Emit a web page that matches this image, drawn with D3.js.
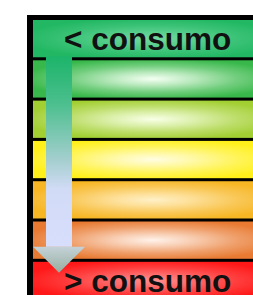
<!DOCTYPE html>
<html>
<head>
<meta charset="utf-8">
<script src="https://cdn.jsdelivr.net/npm/d3@7"></script>
<style>
  html, body { margin: 0; padding: 0; background: #fff; overflow: hidden; }
  .band-label { font-family: "Liberation Sans", Arial, sans-serif; font-weight: bold; fill: #111; }
</style>
</head>
<body>
<svg id="chart"></svg>
<script>
// Consumption levels, top (low) to bottom (high)
const levels = ["L1", "L2", "L3", "L4", "L5", "L6", "L7"];
const labels = ["< consumo", "", "", "", "", "", "> consumo"];
const edgeColors = ["#22b863", "#38b84a", "#a2cf32", "#fff01c", "#f7b623", "#e87a32", "#ff1818"];
const glowColors = ["#72daa2", "#f4fff2", "#f8ffe6", "#fffde2", "#fff0c8", "#fff2ea", "#ff9090"];

const W = 253, H = 295;
const svg = d3.select("#chart").attr("width", W).attr("height", H);
const defs = svg.append("defs");

const frame = { left: 27, top: 15, border: 6, topBorder: 5 };

const y = d3.scaleBand()
    .domain(levels)
    .range([frame.top + frame.topBorder, frame.top + frame.topBorder + 7 * 40.3 - 3])
    .paddingInner(0.075)
    .paddingOuter(0);

const x0 = frame.left + frame.border;

// Black frame / separators
svg.append("rect")
    .attr("x", frame.left)
    .attr("y", frame.top)
    .attr("width", W - frame.left)
    .attr("height", H - frame.top)
    .attr("fill", "#000");

// Glow gradients
levels.forEach((d, i) => {
    const g = defs.append("radialGradient")
        .attr("id", "glow" + i)
        .attr("cx", 0.5).attr("cy", 0.5).attr("r", 0.55);
    const mix = d3.interpolateRgb(glowColors[i], edgeColors[i]);
    g.append("stop").attr("offset", "0%").attr("stop-color", glowColors[i]);
    g.append("stop").attr("offset", "30%").attr("stop-color", mix(0.3));
    g.append("stop").attr("offset", "65%").attr("stop-color", mix(0.7));
    g.append("stop").attr("offset", "100%").attr("stop-color", edgeColors[i]);
});

svg.append("g").selectAll("rect")
    .data(levels)
    .join("rect")
    .attr("x", x0)
    .attr("y", d => y(d))
    .attr("width", W - x0 + 20)
    .attr("height", y.bandwidth())
    .attr("fill", (d, i) => `url(#glow${i})`);

// Arrow
const shaftGrad = defs.append("linearGradient")
    .attr("id", "shaft").attr("x1", 0).attr("y1", 0).attr("x2", 0).attr("y2", 1);
[["0%", "#1cb46a"], ["25%", "#4cbf8e"], ["55%", "#a6cfd0"], ["70%", "#d2dbf6"], ["100%", "#d6defc"]]
    .forEach(([o, c]) => shaftGrad.append("stop").attr("offset", o).attr("stop-color", c));

const headGrad = defs.append("linearGradient")
    .attr("id", "head").attr("x1", 0).attr("y1", 0).attr("x2", 0).attr("y2", 1);
[["0%", "#c4d2d8"], ["100%", "#97ae9f"]]
    .forEach(([o, c]) => headGrad.append("stop").attr("offset", o).attr("stop-color", c));

const cx = 59;
const shaftTop = y(levels[0]) + y.bandwidth() - 1;
const headTop = y(levels[6]) - 15;
const tip = y(levels[6]) + 11;

svg.append("rect")
    .attr("x", cx - 13)
    .attr("y", shaftTop)
    .attr("width", 26)
    .attr("height", headTop - shaftTop)
    .attr("fill", "url(#shaft)");

svg.append("path")
    .attr("d", d3.line()([[cx - 26, headTop], [cx + 26, headTop], [cx, tip]]) + "Z")
    .attr("fill", "url(#head)");

// Labels
svg.append("g").selectAll("text")
    .data(levels.filter((d, i) => labels[i]))
    .join("text")
    .attr("class", "band-label")
    .attr("x", 64)
    .attr("y", d => y(d) + 30)
    .attr("font-size", 31.5)
    .text(d => labels[levels.indexOf(d)]);
</script>
</body>
</html>
